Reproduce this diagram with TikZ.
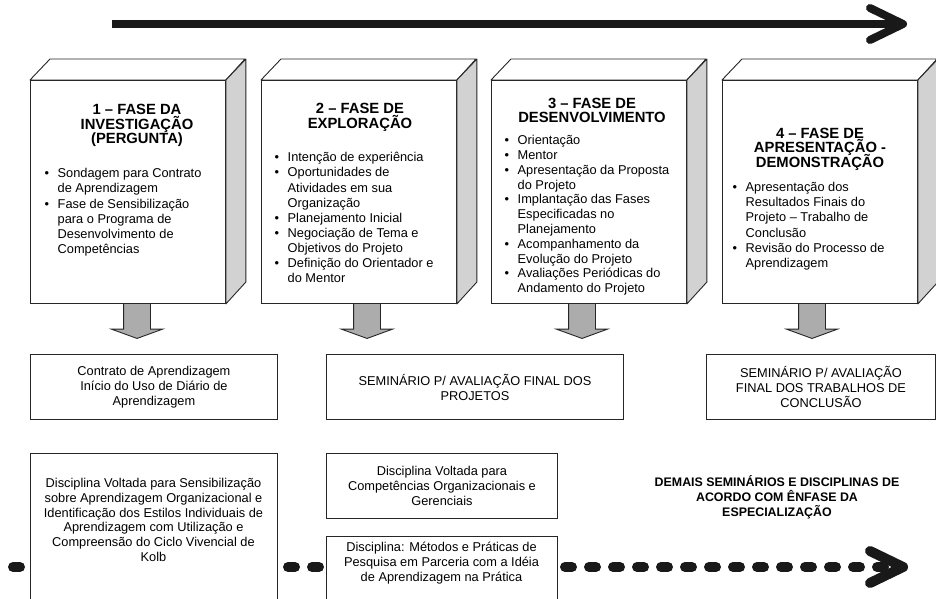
\documentclass[tikz,border=0pt]{standalone}
\usepackage{fontspec}
\setmainfont{Liberation Sans}
\usetikzlibrary{shapes.arrows}

\newcommand{\itm}{\makebox[13pt][l]{\textbullet}}
\newcommand{\ind}{\hspace*{13pt}}
\setlength{\lineskiplimit}{-20pt}

\tikzset{
  front/.style={draw=black!85, fill=white, line width=0.9pt, minimum width=195pt,
    minimum height=223pt, inner sep=0pt, anchor=north west},
  topface/.style={draw=black!85, fill=white, line width=0.9pt, line join=round},
  sideface/.style={draw=black!85, fill=gray!35, line width=0.9pt, line join=round},
  phasetitle/.style={font=\fontsize{14.8}{14.6}\selectfont\bfseries,
    align=center, anchor=north, inner sep=0pt},
  phaselist/.style={font=\fontsize{12.8}{#1}\selectfont,
    align=left, anchor=north west, inner sep=0pt},
  stage/.style={draw=black!85, fill=white, line width=0.9pt, anchor=north west,
    font=\fontsize{12.8}{15}\selectfont, align=center, inner sep=0pt},
  note/.style={font=\fontsize{12.8}{14.8}\selectfont, align=center, inner sep=0pt},
  gate/.style={single arrow, draw=black!85, fill=gray!65, line width=0.9pt, rotate=-90,
    inner xsep=0pt, inner ysep=13pt, text height=0pt, text depth=0pt,
    minimum height=35pt, single arrow head extend=12pt,
    single arrow tip angle=140, anchor=tail},
  timeline/.style={line width=8pt, draw=black!90},
  tiparm/.style={line width=8pt, line cap=round, line join=round, draw=black!90},
  dashflow/.style={line width=10pt, line cap=round, dash pattern=on 7pt off 17pt, draw=black!90}
}

\begin{document}
\begin{tikzpicture}[x=1pt, y=-1pt]

  \useasboundingbox (0,0) rectangle (936,599);
  \clip (0,0) rectangle (936,599);

  % time arrow on top
  \coordinate (t0) at (112,24);
  \coordinate (ttip) at (903,24);
  \draw[timeline] (t0) -- (ttip);
  \draw[tiparm] (ttip) ++(-33,-16) -- (ttip) -- ++(-33,16);

  % the four phases
  \node[front] (fase1) at (30,80)  {};
  \node[front] (fase2) at (261,80) {};
  \node[front] (fase3) at (491,80) {};
  \node[front] (fase4) at (722,80) {};

  \draw[topface]  (fase1.north west) -- ++(20,-21) -- ++(195,0) -- (fase1.north east) -- cycle;
  \draw[sideface] (fase1.north east) -- ++(20,-21) -- ++(0,223) -- (fase1.south east) -- cycle;
  \draw[topface]  (fase2.north west) -- ++(20,-21) -- ++(195,0) -- (fase2.north east) -- cycle;
  \draw[sideface] (fase2.north east) -- ++(20,-21) -- ++(0,223) -- (fase2.south east) -- cycle;
  \draw[topface]  (fase3.north west) -- ++(20,-21) -- ++(195,0) -- (fase3.north east) -- cycle;
  \draw[sideface] (fase3.north east) -- ++(20,-21) -- ++(0,223) -- (fase3.south east) -- cycle;
  \draw[topface]  (fase4.north west) -- ++(20,-21) -- ++(195,0) -- (fase4.north east) -- cycle;
  \draw[sideface] (fase4.north east) -- ++(20,-21) -- ++(0,223) -- (fase4.south east) -- cycle;

  \node[phasetitle] (tit1) at (137,104.2) {1 -- FASE DA\\INVESTIGAÇÃO\\(PERGUNTA)};
  \node[phasetitle] (tit2) at (360,103.2) {2 -- FASE DE\\EXPLORAÇÃO};
  \node[phasetitle] (tit3) at (592,97.7) {3 -- FASE DE\\DESENVOLVIMENTO};
  \node[phasetitle] (tit4) at (820,127.7) {4 -- FASE DE\\APRESENTAÇÃO -\\DEMONSTRAÇÃO};

  \node[phaselist=15.2] (lst1) at (44.5,168.3) {\itm Sondagem para Contrato\\ \ind de Aprendizagem\\
    \itm Fase de Sensibilização\\ \ind para o Programa de\\ \ind Desenvolvimento de\\ \ind Competências};
  \node[phaselist=15.1] (lst2) at (274.5,152.3) {\itm Intenção de experiência\\ \itm Oportunidades de\\
    \ind Atividades em sua\\ \ind Organização\\ \itm Planejamento Inicial\\
    \itm Negociação de Tema e\\ \ind Objetivos do Projeto\\ \itm Definição do Orientador e\\ \ind do Mentor};
  \node[phaselist=14.8] (lst3) at (504.5,135.3) {\itm Orientação\\ \itm Mentor\\ \itm Apresentação da Proposta\\
    \ind do Projeto\\ \itm Implantação das Fases\\ \ind Especificadas no\\ \ind Planejamento\\
    \itm Acompanhamento da\\ \ind Evolução do Projeto\\ \itm Avaliações Periódicas do\\ \ind Andamento do Projeto};
  \node[phaselist=15.1] (lst4) at (732.5,182.3) {\itm Apresentação dos\\ \ind Resultados Finais do\\
    \ind Projeto -- Trabalho de\\ \ind Conclusão\\ \itm Revisão do Processo de\\ \ind Aprendizagem};

  % arrows down to the seminars
  \node[gate] (g1) at (137,303) {};
  \node[gate] (g2) at (367,303) {};
  \node[gate] (g3) at (582,303) {};
  \node[gate] (g4) at (812,303) {};

  \node[stage, minimum width=247pt, minimum height=65pt] (sem1) at (30,354)
    {Contrato de Aprendizagem\\Início do Uso de Diário de\\Aprendizagem};
  \node[stage, minimum width=297pt, minimum height=65pt] (sem2) at (326,354)
    {SEMINÁRIO P/ AVALIAÇÃO FINAL DOS\\PROJETOS};
  \node[stage, minimum width=229pt, minimum height=65pt] (sem3) at (706,354)
    {SEMINÁRIO P/ AVALIAÇÃO\\FINAL DOS TRABALHOS DE\\CONCLUSÃO};

  % disciplines and dashed flow
  \coordinate (l0) at (13,567);
  \coordinate (m0) at (288,567);
  \coordinate (r0) at (565,567);
  \coordinate (rtip) at (903,567);

  \node[stage, minimum width=247pt, minimum height=170pt] (dis1) at (30,453) {};
  \node[stage, minimum width=231pt, minimum height=65pt] (dis2) at (326,453)
    {Disciplina Voltada para\\Competências Organizacionais e\\Gerenciais};
  \node[stage, minimum width=231pt, minimum height=90pt] (dis3) at (326,536) {};

  \node[note] (txt1) at (153.5,520) {Disciplina Voltada para Sensibilização\\sobre Aprendizagem Organizacional e\\
    Identificação dos Estilos Individuais de\\Aprendizagem com Utilização e\\Compreensão do Ciclo Vivencial de\\Kolb};
  \node[note] (txt3) at (441.5,563) {Disciplina: Métodos e Práticas de\\Pesquisa em Parceria com a Idéia\\de Aprendizagem na Prática};

  \draw[dashflow] (l0) -- (l0 -| dis1.west);
  \draw[dashflow] (m0) -- (m0 -| dis3.west);
  \draw[dashflow] (r0) -- (rtip);
  \draw[tiparm, line width=10pt] (rtip) ++(-33,-16) -- (rtip) -- ++(-33,16);

  \node[font=\fontsize{12.4}{15}\selectfont\bfseries, align=center] (demais) at (777,497)
    {DEMAIS SEMINÁRIOS E DISCIPLINAS DE\\ACORDO COM ÊNFASE DA\\ESPECIALIZAÇÃO};

\end{tikzpicture}
\end{document}
